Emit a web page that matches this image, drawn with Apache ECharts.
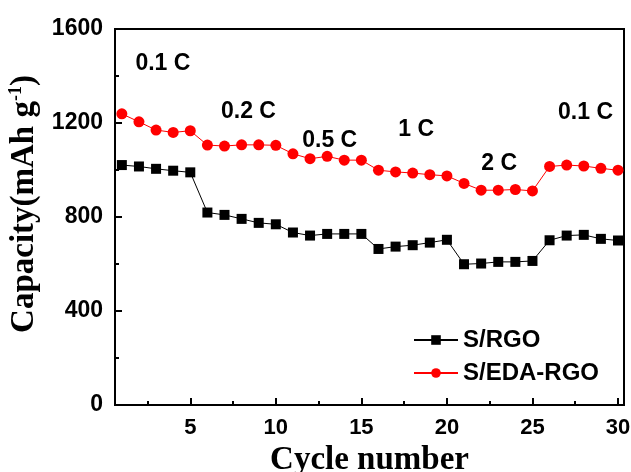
<!DOCTYPE html>
<html>
<head>
<meta charset="utf-8">
<script src="https://cdn.jsdelivr.net/npm/echarts@6/dist/echarts.min.js"></script>
<style>
  html, body { margin: 0; padding: 0; background: #fff; }
  #chart { width: 631px; height: 472px; }
</style>
</head>
<body>
<div id="chart"></div>
<script>
// cycle numbers 1..30
const cycles = [1, 2, 3, 4, 5, 6, 7, 8, 9, 10, 11, 12, 13, 14, 15,
  16, 17, 18, 19, 20, 21, 22, 23, 24, 25, 26, 27, 28, 29, 30]

// capacity, mAh/g
const sRgo = [1021, 1015, 1005, 997, 990, 819, 809, 792, 775, 769,
  734, 721, 728, 728, 728, 664, 674, 680, 691, 703,
  599, 602, 609, 609, 613, 701, 721, 724, 707, 700]
const sEdaRgo = [1239, 1205, 1170, 1160, 1167, 1106, 1102, 1107, 1107, 1105,
  1069, 1048, 1058, 1042, 1042, 999, 992, 987, 980, 975,
  943, 914, 914, 917, 911, 1015, 1021, 1017, 1007, 999]

// C-rate labels placed in data space (cycle, capacity)
const rateNames = ['0.1 C', '0.2 C', '0.5 C', '1 C', '2 C', '0.1 C']
const rateX = [3.4, 8.4, 13.15, 18.2, 23.05, 28.1]
const rateY = [1453, 1248, 1123, 1170, 1028, 1245]

const xTicks = [5, 10, 15, 20, 25, 30]
const xMinorTicks = [2.5, 7.5, 12.5, 17.5, 22.5, 27.5]

const chart = echarts.init(document.getElementById('chart'), null, { renderer: 'canvas' })

const sans = 'Liberation Sans, Arial, sans-serif'
const serif = 'Liberation Serif, Times New Roman, serif'

const xBase = {
  type: 'value',
  min: 0.6,
  max: 30.35,
  splitLine: { show: false }
}

const option = {
  animation: false,
  backgroundColor: '#fff',
  grid: {
    left: 115, right: 7, top: 29, bottom: 67,
    outerBoundsMode: 'none',
    containLabel: false,
    show: true,
    borderColor: '#000',
    borderWidth: 2
  },
  legend: {
    data: ['S/RGO', 'S/EDA-RGO'],
    orient: 'vertical',
    left: 408,
    top: 323,
    itemWidth: 44,
    itemHeight: 12,
    itemGap: 9,
    textStyle: { fontFamily: sans, fontWeight: 'bold', fontSize: 24, color: '#000' }
  },
  xAxis: [
    Object.assign({}, xBase, {
      name: 'Cycle number',
      nameLocation: 'middle',
      nameGap: 37,
      nameTextStyle: { fontFamily: serif, fontWeight: 'bold', fontSize: 33, color: '#000' },
      axisLine: { onZero: false, lineStyle: { color: '#000', width: 2 } },
      axisTick: { inside: true, length: 7, lineStyle: { color: '#000', width: 2 }, customValues: xTicks },
      axisLabel: {
        customValues: xTicks,
        margin: 12,
        fontFamily: sans, fontWeight: 'bold', fontSize: 22, color: '#000'
      }
    }),
    Object.assign({}, xBase, {
      position: 'bottom',
      axisLine: { show: false },
      axisTick: { inside: true, length: 4, lineStyle: { color: '#000', width: 2 }, customValues: xMinorTicks },
      axisLabel: { show: false }
    })
  ],
  yAxis: {
    type: 'value',
    min: 0,
    max: 1600,
    interval: 400,
    name: '{a|Capacity(mAh g}{s|-1}{a|)}',
    nameLocation: 'middle',
    nameGap: 52,
    nameTextStyle: {
      padding: [0, 0, 0, 26],
      rich: {
        a: { fontFamily: serif, fontWeight: 'bold', fontSize: 33, color: '#000' },
        s: { fontFamily: serif, fontWeight: 'bold', fontSize: 18, color: '#000', verticalAlign: 'top', padding: [0, 0, 16, 0] }
      }
    },
    splitLine: { show: false },
    axisLine: { show: true, lineStyle: { color: '#000', width: 2 } },
    axisTick: { inside: true, length: 7, lineStyle: { color: '#000', width: 2 } },
    minorTick: { show: true, splitNumber: 2, length: 4, lineStyle: { color: '#000', width: 2 } },
    axisLabel: {
      margin: 12,
      formatter: v => String(v),
      fontFamily: sans, fontWeight: 'bold', fontSize: 23, color: '#000'
    }
  },
  series: [
    {
      name: 'S/RGO',
      type: 'line',
      data: cycles.map((c, i) => [c, sRgo[i]]),
      symbol: 'rect',
      symbolSize: 10,
      itemStyle: { color: '#000' },
      lineStyle: { color: '#000', width: 1 }
    },
    {
      name: 'S/EDA-RGO',
      type: 'line',
      data: cycles.map((c, i) => [c, sEdaRgo[i]]),
      symbol: 'circle',
      symbolSize: 11,
      itemStyle: { color: '#ff0000' },
      lineStyle: { color: '#ff0000', width: 1 }
    },
    {
      name: 'rates',
      type: 'scatter',
      symbolSize: 0,
      silent: true,
      itemStyle: { opacity: 1 },
      data: rateNames.map((n, i) => ({ name: n, value: [rateX[i], rateY[i]] })),
      label: {
        show: true,
        position: 'inside',
        formatter: p => p.name,
        fontFamily: sans,
        fontWeight: 'bold',
        fontSize: 23,
        color: '#000'
      }
    }
  ]
}

chart.setOption(option)
</script>
</body>
</html>
